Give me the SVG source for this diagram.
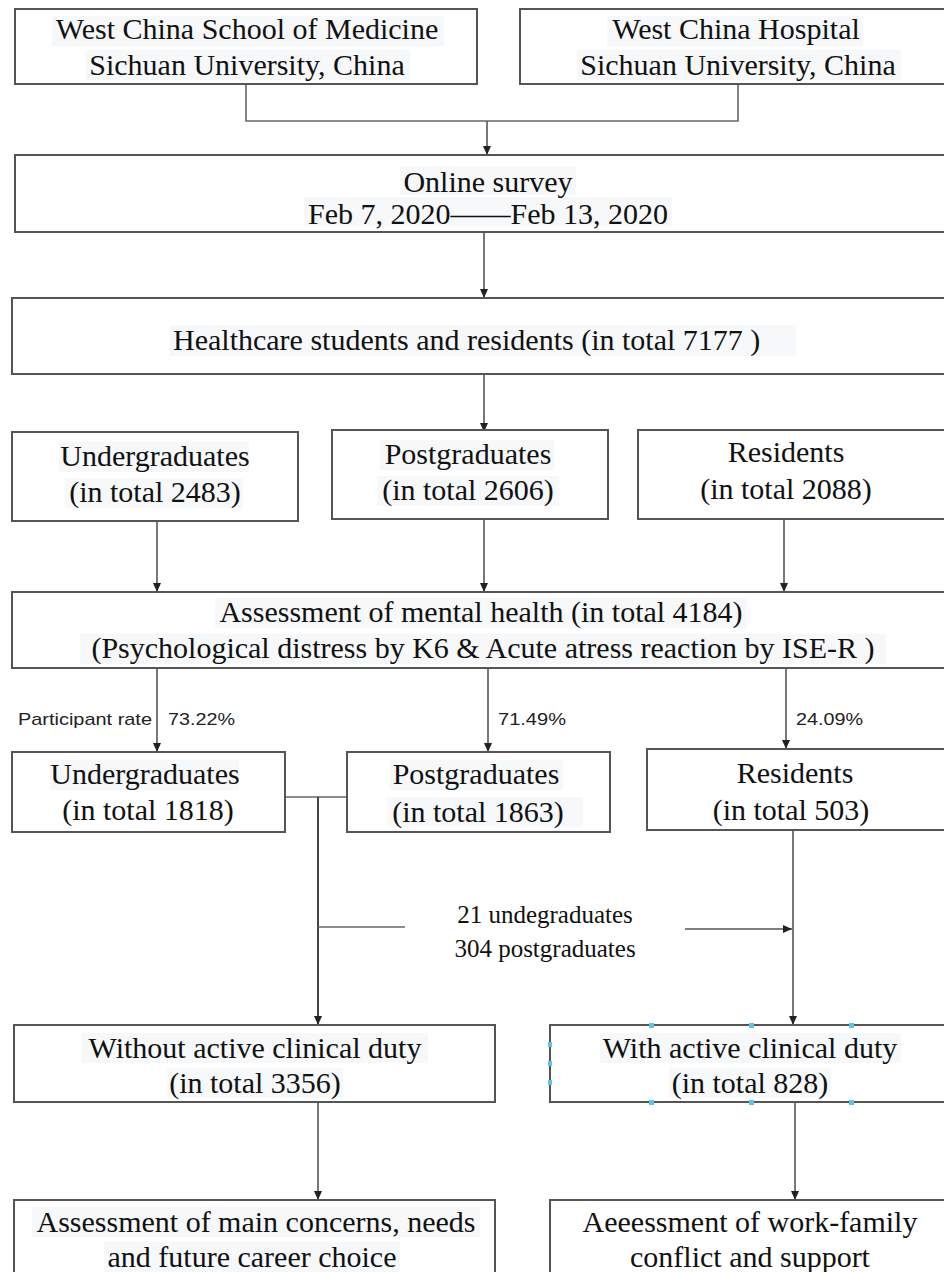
<svg xmlns="http://www.w3.org/2000/svg" width="944" height="1272" viewBox="0 0 944 1272">
<defs>
<marker id="ah" markerWidth="10" markerHeight="10" refX="9" refY="5" orient="auto" markerUnits="userSpaceOnUse">
<path d="M0,1 L9,5 L0,9 Z" fill="#222"/>
</marker>
<style>
.box{fill:#fff;stroke:#555;stroke-width:2}
.t{font-family:"Liberation Serif","Times New Roman",serif;font-size:30px;fill:#111;text-anchor:middle}
.m{font-family:"Liberation Serif","Times New Roman",serif;font-size:25px;fill:#111;text-anchor:middle}
.s{font-family:"Liberation Sans",Arial,sans-serif;font-size:17px;fill:#222}
.c{fill:none;stroke:#666;stroke-width:1.6}
.a{fill:none;stroke:#555;stroke-width:1.6;marker-end:url(#ah)}
.hl{fill:#f6f8fa}
.h{fill:#5ec4ec}
</style>
</defs>
<rect width="944" height="1272" fill="#fff"/>

<g id="connectors">
<polyline class="c" points="246,84 246,121 738,121 738,84"/>
<line class="a" x1="487" y1="121" x2="487" y2="155"/>
<line class="a" x1="484" y1="232" x2="484" y2="298"/>
<line class="a" x1="484" y1="374" x2="484" y2="432"/>
<line class="a" x1="157" y1="521" x2="157" y2="592"/>
<line class="a" x1="484" y1="519" x2="484" y2="592"/>
<line class="a" x1="784" y1="519" x2="784" y2="592"/>
<line class="a" x1="157" y1="668" x2="157" y2="752"/>
<line class="a" x1="488" y1="668" x2="488" y2="752"/>
<line class="a" x1="786" y1="668" x2="786" y2="749"/>
<line class="c" x1="285" y1="797" x2="347" y2="797"/>
<line class="a" x1="318" y1="797" x2="318" y2="1025" style="stroke:#444;stroke-width:2"/>
<line class="c" x1="318" y1="927" x2="405" y2="927"/>
<line class="a" x1="685" y1="929" x2="792" y2="929"/>
<line class="a" x1="793" y1="830" x2="793" y2="1025"/>
<line class="a" x1="318" y1="1102" x2="318" y2="1200"/>
<line class="a" x1="795" y1="1102" x2="795" y2="1200"/>
<text class="s" x="18" y="725" textLength="134" lengthAdjust="spacingAndGlyphs">Participant rate</text>
<text class="s" x="168" y="725" textLength="67" lengthAdjust="spacingAndGlyphs">73.22%</text>
<text class="s" x="498" y="725" textLength="68" lengthAdjust="spacingAndGlyphs">71.49%</text>
<text class="s" x="796" y="725" textLength="67" lengthAdjust="spacingAndGlyphs">24.09%</text>
<text class="m" x="545" y="923">21 undegraduates</text>
<text class="m" x="545" y="957">304 postgraduates</text>
</g>

<g id="n-school">
<rect class="box" x="15" y="9" width="462" height="75"/>
<rect class="hl" x="52" y="16" width="392" height="30"/>
<rect class="hl" x="86" y="50" width="324" height="30"/>
<text class="t" x="247" y="39">West China School of Medicine</text>
<text class="t" x="247" y="75">Sichuan University, China</text>
</g>

<g id="n-hospital">
<rect class="box" x="520" y="9" width="430" height="75"/>
<rect class="hl" x="607" y="16" width="256" height="30"/>
<rect class="hl" x="577" y="50" width="324" height="30"/>
<text class="t" x="736" y="39">West China Hospital</text>
<text class="t" x="738" y="75">Sichuan University, China</text>
</g>

<g id="n-survey">
<rect class="box" x="15" y="155" width="935" height="77"/>
<rect class="hl" x="400" y="166" width="176" height="29"/>
<rect class="hl" x="304" y="197" width="368" height="30"/>
<text class="t" x="488" y="192">Online survey</text>
<text class="t" x="488" y="224">Feb 7, 2020——Feb 13, 2020</text>
</g>

<g id="n-healthcare">
<rect class="box" x="12" y="298" width="940" height="76"/>
<rect class="hl" x="170" y="325" width="626" height="31"/>
<text class="t" x="173" y="350" style="text-anchor:start">Healthcare students and residents  (in total 7177 )</text>
</g>

<g id="n-ug1">
<rect class="box" x="12" y="432" width="286" height="89"/>
<rect class="hl" x="59" y="442" width="190" height="30"/>
<rect class="hl" x="65" y="478" width="178" height="30"/>
<text class="t" x="155" y="466">Undergraduates</text>
<text class="t" x="155" y="502">(in total 2483)</text>
</g>

<g id="n-pg1">
<rect class="box" x="332" y="430" width="276" height="89"/>
<rect class="hl" x="380" y="440" width="174" height="30"/>
<rect class="hl" x="377" y="476" width="182" height="30"/>
<text class="t" x="468" y="464">Postgraduates</text>
<text class="t" x="468" y="500">(in total 2606)</text>
</g>

<g id="n-res1">
<rect class="box" x="638" y="430" width="310" height="89"/>
<text class="t" x="786" y="462">Residents</text>
<text class="t" x="786" y="499">(in total 2088)</text>
</g>

<g id="n-assess">
<rect class="box" x="12" y="592" width="940" height="76"/>
<rect class="hl" x="215" y="598" width="532" height="30"/>
<rect class="hl" x="80" y="634" width="806" height="30"/>
<text class="t" x="481" y="622">Assessment of mental health (in total 4184)</text>
<text class="t" x="483" y="658">(Psychological distress by K6 &amp; Acute atress reaction by ISE-R )</text>
</g>

<g id="n-ug2">
<rect class="box" x="12" y="752" width="273" height="80"/>
<rect class="hl" x="50" y="760" width="189" height="30"/>
<text class="t" x="145" y="784">Undergraduates</text>
<text class="t" x="148" y="820">(in total 1818)</text>
</g>

<g id="n-pg2">
<rect class="box" x="347" y="752" width="263" height="80"/>
<rect class="hl" x="390" y="760" width="173" height="30"/>
<rect class="hl" x="387" y="797" width="196" height="30"/>
<text class="t" x="476" y="784">Postgraduates</text>
<text class="t" x="478" y="822">(in total 1863)</text>
</g>

<g id="n-res2">
<rect class="box" x="647" y="749" width="300" height="81"/>
<text class="t" x="795" y="783">Residents</text>
<text class="t" x="791" y="820">(in total 503)</text>
</g>

<g id="n-without">
<rect class="box" x="14" y="1025" width="481" height="77"/>
<rect class="hl" x="82" y="1033" width="346" height="30"/>
<rect class="hl" x="167" y="1068" width="176" height="30"/>
<text class="t" x="255" y="1058">Without active clinical duty</text>
<text class="t" x="255" y="1093">(in total 3356)</text>
</g>

<g id="n-with">
<rect class="box" x="550" y="1025" width="400" height="77"/>
<rect class="hl" x="600" y="1033" width="301" height="30"/>
<rect class="hl" x="669" y="1068" width="162" height="30"/>
<text class="t" x="750" y="1058">With active clinical duty</text>
<text class="t" x="750" y="1093">(in total 828)</text>
<rect class="h" x="649" y="1023" width="5" height="5"/>
<rect class="h" x="749" y="1023" width="5" height="5"/>
<rect class="h" x="849" y="1023" width="5" height="5"/>
<rect class="h" x="649" y="1100" width="5" height="5"/>
<rect class="h" x="749" y="1100" width="5" height="5"/>
<rect class="h" x="849" y="1100" width="5" height="5"/>
<rect class="h" x="548" y="1042" width="4" height="5"/>
<rect class="h" x="548" y="1061" width="4" height="5"/>
<rect class="h" x="548" y="1080" width="4" height="5"/>
</g>

<g id="n-concerns">
<rect class="box" x="14" y="1200" width="481" height="90"/>
<rect class="hl" x="32" y="1207" width="448" height="30"/>
<rect class="hl" x="104" y="1242" width="296" height="30"/>
<text class="t" x="256" y="1232">Assessment of main concerns, needs</text>
<text class="t" x="252" y="1267">and future career choice</text>
</g>

<g id="n-workfamily">
<rect class="box" x="550" y="1200" width="400" height="90"/>
<text class="t" x="750" y="1232">Aeeessment of work-family</text>
<text class="t" x="750" y="1267">conflict and support</text>
</g>
</svg>
